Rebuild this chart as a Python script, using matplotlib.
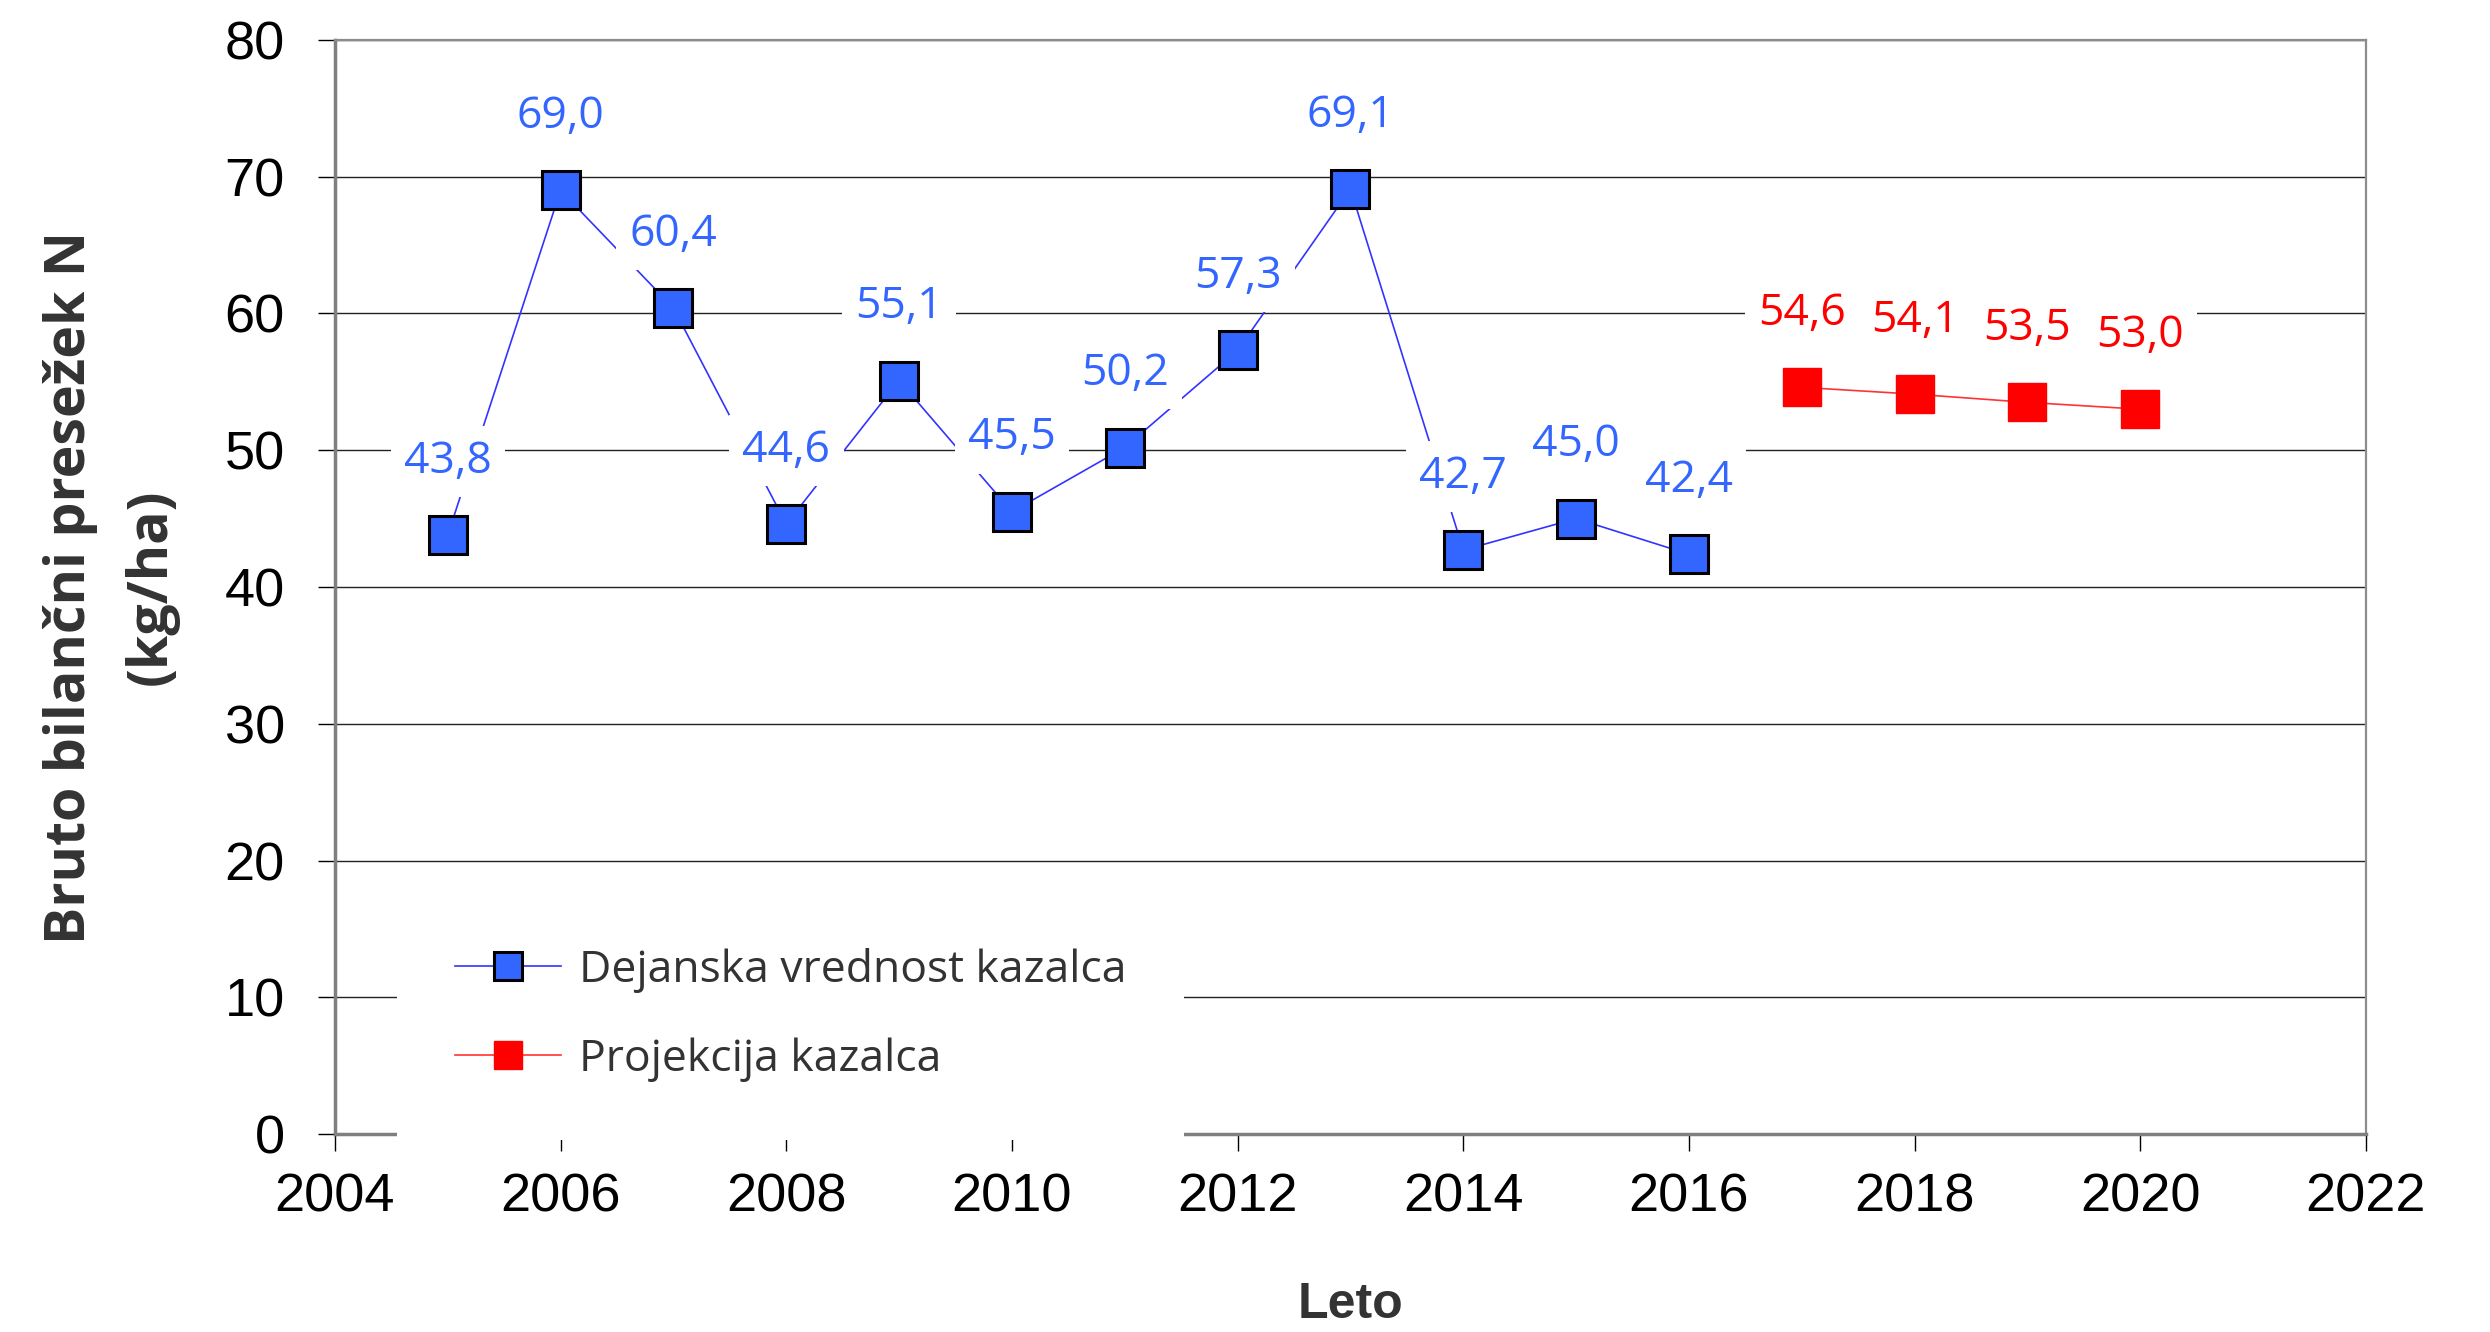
import matplotlib
matplotlib.use("Agg")
import matplotlib.pyplot as plt
import numpy as np

years_actual = [2005, 2006, 2007, 2008, 2009, 2010, 2011, 2012, 2013, 2014, 2015, 2016]
values_actual = [43.8, 69.0, 60.4, 44.6, 55.1, 45.5, 50.2, 57.3, 69.1, 42.7, 45.0, 42.4]
years_proj = [2017, 2018, 2019, 2020]
values_proj = [54.6, 54.1, 53.5, 53.0]
label_actual = "Dejanska vrednost kazalca"
label_proj = "Projekcija kazalca"

blue = "#3366FF"
red = "#FF0000"
label_font = "Open Sans"

fig = plt.figure(figsize=(24.9, 13.32), dpi=100)
ax = fig.add_axes([0.1345, 0.1486, 0.8157, 0.8214])

ax.plot(years_actual, values_actual, color="#3333FF", lw=1.2,
        marker="s", ms=27, mfc=blue, mec="black", mew=2.2,
        label=label_actual, zorder=3)
ax.plot(years_proj, values_proj, color="#FF3333", lw=1.2,
        marker="s", ms=27, mfc=red, mec=red, mew=1,
        label=label_proj, zorder=3)


def fmt(v):
    return "{:.1f}".format(v).replace(".", ",")


for xs, ys, c in [(years_actual, values_actual, blue), (years_proj, values_proj, red)]:
    for x, y in zip(xs, ys):
        ax.annotate(fmt(y), (x, y), xytext=(0, 53), textcoords="offset points",
                    ha="center", va="center", fontsize=32, color=c,
                    family=label_font, zorder=5,
                    bbox=dict(boxstyle="square,pad=0.3", fc="white", ec="none"))

ax.set_xlim(2004, 2022)
ax.set_ylim(0, 80)
ax.set_xticks(np.arange(2004, 2023, 2))
ax.set_yticks(np.arange(0, 81, 10))
ax.grid(axis="y", color="#222222", lw=1.0, zorder=0)
ax.set_axisbelow(True)

for s in ["left", "bottom"]:
    ax.spines[s].set_color("#7f7f7f")
    ax.spines[s].set_linewidth(2.5)
for s in ["top", "right"]:
    ax.spines[s].set_color("#8c8c8c")
    ax.spines[s].set_linewidth(1.6)

ax.tick_params(axis="both", direction="out", length=12, width=1, color="black",
               labelsize=39)
ax.tick_params(axis="y", pad=24)
ax.tick_params(axis="x", pad=16)
for t in ax.get_xticklabels() + ax.get_yticklabels():
    t.set_family("Liberation Sans")

ax.set_ylabel("Bruto bilančni presežek N\n(kg/ha)", family=label_font,
              fontweight="bold", fontsize=40, color="#333333", linespacing=1.6)
ax.yaxis.set_label_coords(-0.077, 0.5)
ax.set_xlabel("Leto", family="Liberation Sans", fontweight="bold",
              fontsize=36, color="#333333", va="center")
ax.xaxis.set_label_coords(0.5, -0.156)

leg = ax.legend(loc="center left", bbox_to_anchor=(0.0305, 0.1088),
                borderaxespad=0, frameon=True, facecolor="white", edgecolor="none",
                framealpha=1, fancybox=False, markerscale=0.75,
                prop={"family": label_font, "size": 32},
                handlelength=2.4, handletextpad=0.4, labelspacing=1.0,
                borderpad=1.3)
for t in leg.get_texts():
    t.set_color("#333333")
leg.set_zorder(6)

fig.savefig("out.png", dpi=100)
